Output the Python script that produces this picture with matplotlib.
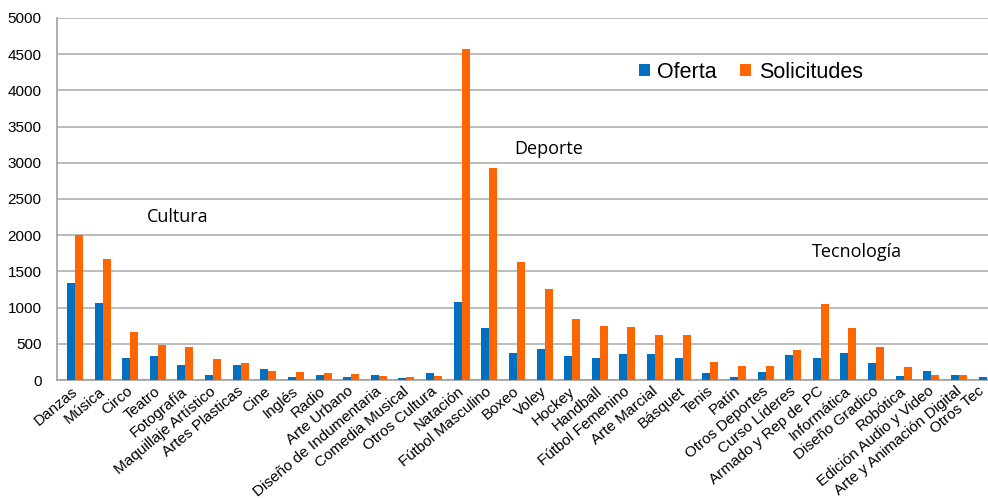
import matplotlib
matplotlib.use("Agg")
import matplotlib.pyplot as plt
import matplotlib.transforms as mtransforms
import numpy as np

categorias = ["Danzas", "Música", "Circo", "Teatro", "Fotografía", "Maquillaje Artístico",
              "Artes Plasticas", "Cine", "Inglés", "Radio", "Arte Urbano",
              "Diseño de Indumentaria", "Comedia Musical", "Otros Cultura", "Natación",
              "Fútbol Masculino", "Boxeo", "Voley", "Hockey", "Handball", "Fútbol Femenino",
              "Arte Marcial", "Básquet", "Tenis", "Patín", "Otros Deportes", "Curso Líderes",
              "Armado y Rep de PC", "Informática", "Diseño Gradico", "Robótica",
              "Edición Audio y Video", "Arte y Animación Digital", "Otros Tec"]
oferta = [1345, 1060, 300, 327, 202, 74, 202, 147, 41, 64, 37, 64, 28, 92, 1077,
          714, 368, 433, 327, 308, 359, 359, 308, 92, 37, 115, 345, 308, 377, 240,
          55, 124, 74, 37]
solicitudes = [2000, 1670, 663, 483, 451, 295, 240, 124, 106, 92, 78, 55, 46, 55, 4570,
               2925, 1625, 1252, 838, 746, 737, 622, 622, 253, 193, 193, 414, 1054, 714,
               451, 175, 69, 74, 0]

azul = "#0070C0"
naranja = "#FF6600"

fig = plt.figure(figsize=(9.88, 4.98), dpi=100)
ax = fig.add_axes([57 / 988, 118 / 498, 1 - 57 / 988, 362 / 498])

x = np.arange(len(categorias))
w = 0.29
ax.bar(x - w / 2, oferta, w, color=azul, label="Oferta", zorder=3)
ax.bar(x + w / 2, solicitudes, w, color=naranja, label="Solicitudes", zorder=3)

ax.set_xlim(-0.65, 33.05)
ax.set_ylim(0, 5000)
ax.set_yticks(np.arange(0, 5001, 500))
ax.yaxis.grid(True, color="#b0b0b0", linewidth=1.2, zorder=0)
ax.tick_params(axis="y", length=0, labelsize=11, pad=11)
ax.tick_params(axis="x", length=0, labelsize=11, pad=3)
ax.set_xticks(x)
ax.set_xticklabels(categorias, rotation=40, ha="right", rotation_mode="anchor",
                   family="Liberation Sans")
etiquetas = ax.get_xticklabels()
for i, lab in enumerate(etiquetas):
    dx = -4 if i < len(etiquetas) - 1 else -9  # la última no debe salirse del borde
    lab.set_transform(lab.get_transform() +
                      mtransforms.ScaledTranslation(dx / 100, 0, fig.dpi_scale_trans))
for lab in ax.get_yticklabels():
    lab.set_family("Liberation Sans")

for s in ["top", "right"]:
    ax.spines[s].set_visible(False)
for s in ["left", "bottom"]:
    ax.spines[s].set_color("#a0a0a0")
    ax.spines[s].set_linewidth(1.2)

ax.text(2.6, 2180, "Cultura", fontsize=13, family="Open Sans")
ax.text(15.9, 3120, "Deporte", fontsize=13, family="Open Sans")
ax.text(26.67, 1700, "Tecnología", fontsize=13, family="Open Sans")

leg = ax.legend(loc="center left", bbox_to_anchor=(0.625, 0.85), ncol=2, frameon=False,
                handlelength=0.5, handleheight=0.5, handletextpad=0.35, columnspacing=1.1,
                borderpad=0, borderaxespad=0,
                prop={"family": "Liberation Sans", "size": 15.5})

fig.savefig("out.png", dpi=100)
